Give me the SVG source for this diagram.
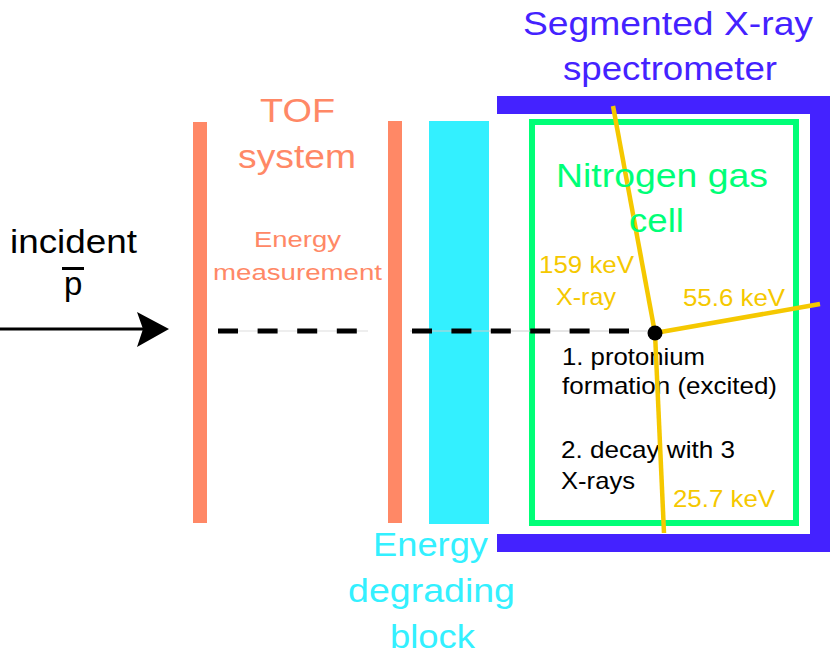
<svg xmlns="http://www.w3.org/2000/svg" width="830" height="660" viewBox="0 0 830 660">
<style>
text{font-family:"Liberation Sans",Arial,Helvetica,sans-serif;}
.big{font-size:33px;}
.mid{font-size:22.5px;}
.sm{font-size:24px;}
.salmon{fill:#ff8866;}
.cyan{fill:#33f0ff;}
.blue{fill:#4422ff;}
.green{fill:#00ff77;}
.yellow{fill:#f5c800;}
.black{fill:#000;}
.ray{stroke:#f5c800;stroke-width:4.5;fill:none;}
</style>
<rect width="830" height="660" fill="#fff"/>
<g id="tof">
<rect x="193" y="122" width="14" height="401" class="salmon"/>
<rect x="388" y="121" width="14" height="402" class="salmon"/>
<text class="big salmon" x="260" y="122" textLength="75" lengthAdjust="spacingAndGlyphs">TOF</text>
<text class="big salmon" x="238" y="168" textLength="118" lengthAdjust="spacingAndGlyphs">system</text>
<text class="mid salmon" x="254" y="247" textLength="87" lengthAdjust="spacingAndGlyphs">Energy</text>
<text class="mid salmon" x="213" y="280" textLength="169" lengthAdjust="spacingAndGlyphs">measurement</text>
</g>
<g id="degrader">
<rect x="429" y="121" width="60" height="403" class="cyan"/>
<text class="big cyan" x="373" y="556" textLength="115" lengthAdjust="spacingAndGlyphs">Energy</text>
<text class="big cyan" x="348" y="602" textLength="167" lengthAdjust="spacingAndGlyphs">degrading</text>
<text class="big cyan" x="390" y="648" textLength="85" lengthAdjust="spacingAndGlyphs">block</text>
</g>
<g id="spectrometer">
<path d="M497 96H830V552H497V534H810V114H497Z" class="blue"/>
<text class="big blue" x="523" y="35" textLength="290" lengthAdjust="spacingAndGlyphs">Segmented X-ray</text>
<text class="big blue" x="563" y="80" textLength="214" lengthAdjust="spacingAndGlyphs">spectrometer</text>
</g>
<g id="gascell">
<rect x="532" y="122" width="264" height="401" fill="none" stroke="#00ff77" stroke-width="6"/>
</g>
<g id="incident">
<text class="big black" x="10" y="253" textLength="127" lengthAdjust="spacingAndGlyphs">incident</text>
<text class="big black" x="64" y="295">p</text>
<rect x="62" y="267" width="22" height="3" fill="#000"/>
</g>
<g id="process">
<text class="sm black" x="562" y="365" textLength="143" lengthAdjust="spacingAndGlyphs">1. protonium</text>
<text class="sm black" x="562" y="394" textLength="215" lengthAdjust="spacingAndGlyphs">formation (excited)</text>
<text class="sm black" x="561" y="458" textLength="174" lengthAdjust="spacingAndGlyphs">2. decay with 3</text>
<text class="sm black" x="561" y="489" textLength="74" lengthAdjust="spacingAndGlyphs">X-rays</text>
</g>
<g id="connectors">
<line x1="0" y1="329" x2="146" y2="329" stroke="#000" stroke-width="3"/>
<path d="M169 329L137 312L143 329L137 347Z" fill="#000"/>
<line x1="218" y1="331" x2="368" y2="331" stroke="#ddd" stroke-width="1"/>
<line x1="410" y1="331" x2="655" y2="331" stroke="#ccc" stroke-width="1"/>
<line x1="218" y1="331" x2="368" y2="331" stroke="#000" stroke-width="5" stroke-dasharray="20 19.6"/>
<line x1="412" y1="331" x2="640" y2="331" stroke="#000" stroke-width="5" stroke-dasharray="20 19.4"/>
<line x1="613" y1="106" x2="655" y2="333" class="ray"/>
<line x1="655" y1="333" x2="820" y2="304" class="ray"/>
<line x1="655" y1="333" x2="664" y2="533" class="ray"/>
<circle cx="655" cy="333" r="7.5" fill="#000"/>
</g>
<g id="labels">
<text class="big green" x="556" y="187" textLength="212" lengthAdjust="spacingAndGlyphs">Nitrogen gas</text>
<text class="big green" x="629" y="232" textLength="55" lengthAdjust="spacingAndGlyphs">cell</text>
<text class="sm yellow" x="539" y="273" textLength="95" lengthAdjust="spacingAndGlyphs">159 keV</text>
<text class="sm yellow" x="556" y="305" textLength="60" lengthAdjust="spacingAndGlyphs">X-ray</text>
<text class="sm yellow" x="683" y="306" textLength="102" lengthAdjust="spacingAndGlyphs">55.6 keV</text>
<text class="sm yellow" x="673" y="507" textLength="102" lengthAdjust="spacingAndGlyphs">25.7 keV</text>
</g>
</svg>
